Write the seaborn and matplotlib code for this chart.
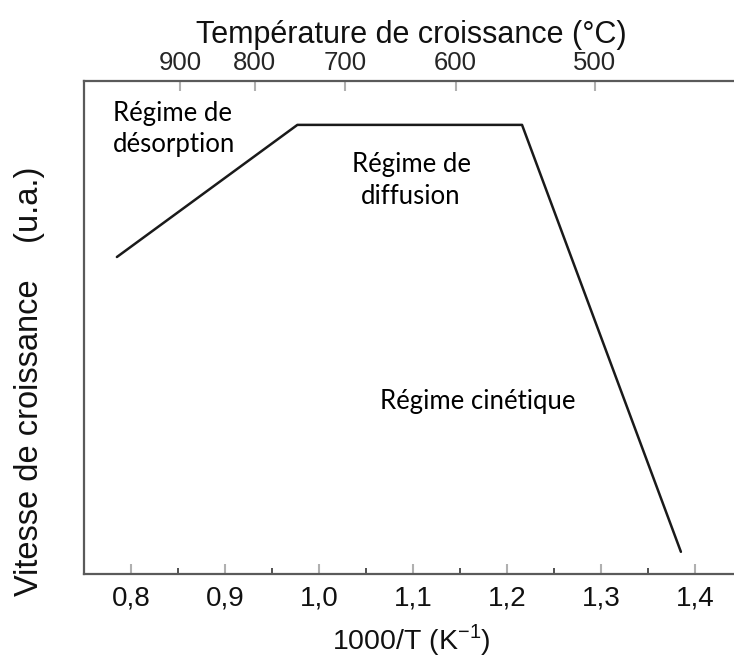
import numpy as np
import pandas as pd
import matplotlib
matplotlib.use("Agg")
import matplotlib.pyplot as plt
import seaborn as sns
from matplotlib.ticker import MultipleLocator, FixedLocator

# growth-rate curve: inverse temperature (1000/T, K^-1) vs. rate (arbitrary units)
inv_temp = [0.785, 0.977, 1.216, 1.385]
rate = [0.643, 0.911, 0.911, 0.045]

# top axis: growth temperatures in degrees Celsius
temp_celsius = [900, 800, 700, 600, 500]
bottom_ticks = [0.8, 0.9, 1.0, 1.1, 1.2, 1.3, 1.4]
bottom_labels = ["0,8", "0,9", "1,0", "1,1", "1,2", "1,3", "1,4"]

regimes = ["Régime de\ndésorption", "Régime de\ndiffusion", "Régime cinétique"]

sns.set_theme(style="white")
label_font = ["Liberation Sans Narrow", "Liberation Sans", "DejaVu Sans"]
note_font = ["Lato", "DejaVu Sans"]
plt.rcParams["font.family"] = label_font

W, H = 734, 661
left_px, right_px, top_px, bottom_px = 84, 738, 81, 574
fig = plt.figure(figsize=(W / 100, H / 100), dpi=100)
ax = fig.add_axes([left_px / W, 1 - bottom_px / H,
                   (right_px - left_px) / W, (bottom_px - top_px) / H])

df = pd.DataFrame({"x": inv_temp, "y": rate})
sns.lineplot(data=df, x="x", y="y", ax=ax, color="#1a1a1a", linewidth=1.8, sort=False)

ax.set_xlim(0.75, 0.75 + (right_px - left_px) / 940)
ax.set_ylim(0, 1)
ax.set_yticks([])

for side in ["left", "bottom", "top"]:
    ax.spines[side].set_visible(True)
    ax.spines[side].set_color("#5a5a5a")
    ax.spines[side].set_linewidth(1.6)
ax.spines["right"].set_visible(False)

ax.xaxis.set_major_locator(FixedLocator(bottom_ticks))
ax.set_xticklabels(bottom_labels)
ax.xaxis.set_minor_locator(MultipleLocator(0.1, offset=0.05))
ax.tick_params(axis="x", which="major", direction="in", length=7, width=1.5,
               color="#b0b0b0", labelsize=20, pad=8, bottom=True, top=False)
ax.tick_params(axis="x", which="minor", direction="in", length=4, width=1.1,
               color="#222222", bottom=True, top=False)
for lab in ax.get_xticklabels():
    lab.set_color("#111111")

ax.set_xlabel("1000/T (K$^{\\mathregular{-1}}$)", fontsize=20.5, color="#111111")
ax.xaxis.set_label_coords(0.5, -0.097)
ax.set_ylabel("Vitesse de croissance    (u.a.)", fontsize=23.5, color="#111111")
ax.yaxis.set_label_coords(-0.06, 0.39)

# secondary axis in Celsius
top = ax.secondary_xaxis("top", functions=(lambda v: v, lambda v: v))
top.set_xticks([1000.0 / (t + 273.15) for t in temp_celsius])
top.set_xticklabels([str(t) for t in temp_celsius])
top.tick_params(axis="x", direction="in", length=7, width=1.5, color="#b0b0b0",
                labelsize=18.5, pad=4)
top.spines["top"].set_visible(False)
top.set_xlabel("Température de croissance (°C)", fontsize=22, labelpad=6, color="#111111")

ax.text(0.781, 0.903, regimes[0], family=note_font, fontsize=18.5, color="black",
        ha="left", va="center", linespacing=1.3)
ax.text(1.098, 0.798, regimes[1], family=note_font, fontsize=18.5, color="black",
        ha="center", va="center", linespacing=1.35)
ax.text(1.169, 0.35, regimes[2], family=note_font, fontsize=18.5, color="black",
        ha="center", va="center")

fig.savefig("out.png", dpi=100)
